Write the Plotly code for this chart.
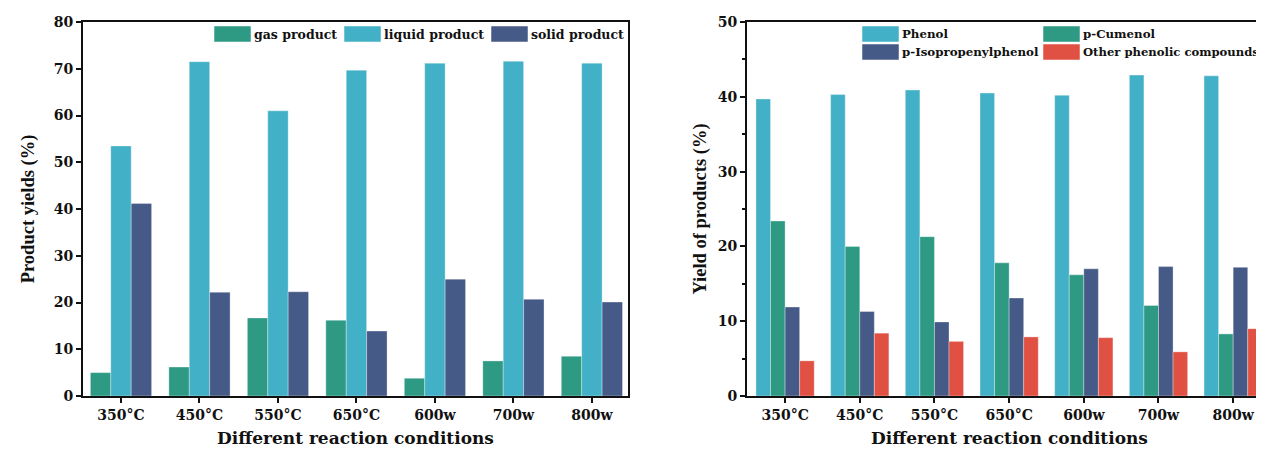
import plotly.graph_objects as go

categories = ["350°C", "450°C", "550°C", "650°C", "600w", "700w", "800w"]

# Left chart: product yields (%)
gas_product = [5.0, 6.2, 16.7, 16.2, 3.8, 7.5, 8.5]
liquid_product = [53.5, 71.5, 61.0, 69.7, 71.2, 71.6, 71.2]
solid_product = [41.2, 22.2, 22.3, 13.9, 25.0, 20.7, 20.1]

# Right chart: yield of products (%)
phenol = [39.7, 40.3, 40.9, 40.5, 40.2, 42.9, 42.8]
p_cumenol = [23.4, 20.0, 21.3, 17.8, 16.2, 12.1, 8.3]
p_isopropenylphenol = [11.9, 11.3, 9.9, 13.1, 17.0, 17.3, 17.2]
other_phenolic = [4.7, 8.4, 7.3, 7.9, 7.8, 5.9, 9.0]

left_ticks = [0, 10, 20, 30, 40, 50, 60, 70, 80]
right_ticks = [0, 10, 20, 30, 40, 50]

GREEN = "#2E9A84"
CYAN = "#42B0C6"
NAVY = "#465A87"
RED = "#E05043"
INK = "#111111"
WIDE = "DejaVu Serif"
NARROW = "Liberation Serif"

W, H = 1264, 451
OFF = 8  # page body margin offset of the rendered figure
TOP, BOTTOM = 22 - OFF, 396 - OFF


def px_x(px):
    return (px - OFF) / W


def px_y(py):
    return (BOTTOM - (py - OFF)) / (BOTTOM - TOP)


left_series = [("gas product", gas_product, GREEN),
               ("liquid product", liquid_product, CYAN),
               ("solid product", solid_product, NAVY)]
right_series = [("Phenol", phenol, CYAN),
                ("p-Cumenol", p_cumenol, GREEN),
                ("p-Isopropenylphenol", p_isopropenylphenol, NAVY),
                ("Other phenolic compounds", other_phenolic, RED)]

fig = go.Figure()
for name, vals, col in left_series:
    fig.add_trace(go.Bar(x=categories, y=vals, name=name, xaxis="x", yaxis="y",
                         marker=dict(color=col, line=dict(color="rgba(255,255,255,0.55)", width=0.6)),
                         showlegend=False, offsetgroup=name))
for name, vals, col in right_series:
    fig.add_trace(go.Bar(x=categories, y=vals, name=name, xaxis="x2", yaxis="y2",
                         marker=dict(color=col, line=dict(color="rgba(255,255,255,0.55)", width=0.6)),
                         showlegend=False, offsetgroup=name))

# Legend drawn as swatches + labels (name, colour, swatch-left px, row top px, font size)
legend_items = [
    ("gas product", GREEN, 214, 26, 12.5),
    ("liquid product", CYAN, 344, 26, 12.5),
    ("solid product", NAVY, 491, 26, 12.5),
    ("Phenol", CYAN, 862, 26, 11.8),
    ("p-Cumenol", GREEN, 1043, 26, 11.8),
    ("p-Isopropenylphenol", NAVY, 862, 44, 11.8),
    ("Other phenolic compounds", RED, 1043, 44, 11.6),
]
shapes = []
annotations = []
for name, col, sx, sy, fs in legend_items:
    shapes.append(dict(type="rect", xref="paper", yref="paper",
                       x0=px_x(sx), x1=px_x(sx + 37), y0=px_y(sy), y1=px_y(sy + 16),
                       fillcolor=col, line=dict(color="rgba(255,255,255,0.5)", width=1), layer="above"))
    annotations.append(dict(xref="paper", yref="paper", x=px_x(sx + 38), y=px_y(sy + 8),
                            xanchor="left", yanchor="middle", showarrow=False, text=name,
                            font=dict(family=WIDE, size=fs, weight="bold", color=INK)))

xtickfont = dict(family=WIDE, size=14, weight="bold", color=INK)
ytickfont = dict(family=WIDE, size=14, weight="bold", color=INK)
xtitlefont = dict(family=WIDE, size=17, weight="bold", color=INK)
ytitlefont = dict(family=NARROW, size=18.5, weight="bold", color=INK)

axis_common = dict(
    showline=True, linecolor=INK, linewidth=2, mirror=True,
    ticks="outside", ticklen=5, tickwidth=1.5, tickcolor=INK,
    showgrid=False, zeroline=False,
)

fig.update_layout(
    width=W, height=H,
    margin=dict(l=0, r=0, t=TOP, b=H - BOTTOM),
    paper_bgcolor="white", plot_bgcolor="white",
    barmode="group", bargap=0.22, bargroupgap=0,
    font=dict(family=WIDE, color=INK),
    showlegend=False,
    shapes=shapes, annotations=annotations,
    xaxis=dict(domain=[px_x(83), px_x(628)], range=[-0.484, 6.46], anchor="y",
               title=dict(text="Different reaction conditions", font=xtitlefont, standoff=10),
               tickfont=xtickfont, automargin=False, **axis_common),
    yaxis=dict(domain=[0, 1], range=[0, 80], tickvals=left_ticks, anchor="x",
               title=dict(text="Product yields (%)", font=ytitlefont, standoff=14),
               tickfont=ytickfont, automargin=False, **axis_common),
    xaxis2=dict(domain=[px_x(747), 1.0], range=[-0.51, 6.52], anchor="y2",
                title=dict(text="Different reaction conditions", font=xtitlefont, standoff=10),
                tickfont=xtickfont, automargin=False, **axis_common),
    yaxis2=dict(domain=[0, 1], range=[0, 50], tickvals=right_ticks, anchor="x2",
                title=dict(text="Yield of products (%)", font=ytitlefont, standoff=6),
                tickfont=ytickfont, automargin=False,
                minor=dict(dtick=5, ticks="outside", ticklen=3, tickwidth=1.5, tickcolor=INK),
                **axis_common),
)

fig.write_html("out.html")
